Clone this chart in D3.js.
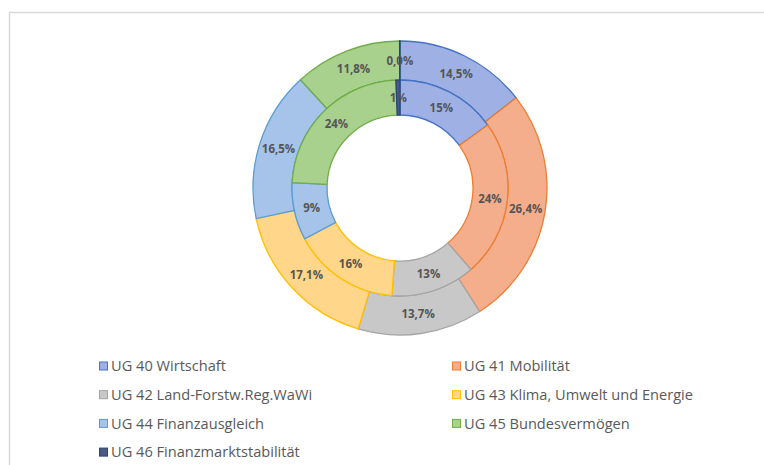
<!DOCTYPE html>
<meta charset="utf-8">
<style>
body { margin: 0; background: #fff; }
.slice { stroke-width: 1.3px; }
.lbl { font: bold 11.5px "Open Sans", sans-serif; fill: #555; }
.legend text { font: 14.6px "Open Sans", sans-serif; fill: #595959; }
</style>
<body>
<div id="chart"></div>
<script src="https://d3js.org/d3.v7.min.js"></script>
<script>

// categories and values
var categories = ["UG 40 Wirtschaft", "UG 41 Mobilität", "UG 42 Land-Forstw.Reg.WaWi",
  "UG 43 Klima, Umwelt und Energie", "UG 44 Finanzausgleich", "UG 45 Bundesvermögen",
  "UG 46 Finanzmarktstabilität"];
var outerValues = [14.5, 26.4, 13.7, 17.1, 16.5, 11.8, 0.04];
var innerValues = [15.1, 23.5, 12.6, 16.0, 8.6, 23.6, 0.6];
var fills   = ["#9fb1e4", "#f5ae8c", "#c8c8c8", "#ffd68a", "#a6c4ea", "#a9d18e", "#4a5a82"];
var strokes = ["#4472c4", "#ed7d31", "#a5a5a5", "#ffc000", "#5b9bd5", "#70ad47", "#264478"];

var width = 764, height = 465;
var cx = 400, cy = 188;

var svg = d3.select("#chart").append("svg")
  .attr("width", width)
  .attr("height", height);

// frame
svg.append("rect")
  .attr("x", 9.5).attr("y", 12.5)
  .attr("width", 780).attr("height", 480)
  .attr("fill", "none")
  .attr("stroke", "#d9d9d9")
  .attr("stroke-width", 1.5);

var pie = d3.pie().sort(null).value(function(d) { return d; });

var g = svg.append("g").attr("transform", "translate(" + cx + "," + cy + ")");

function ring(values, r0, r1, fmt) {
  var arc = d3.arc().innerRadius(r0).outerRadius(r1);
  var arcs = pie(values);
  var total = d3.sum(values);
  var grp = g.append("g");
  grp.selectAll("path")
    .data(arcs)
    .enter().append("path")
    .attr("class", "slice")
    .attr("d", arc)
    .attr("fill", function(d, i) { return fills[i]; })
    .attr("stroke", function(d, i) { return strokes[i]; });
  grp.selectAll("text")
    .data(arcs)
    .enter().append("text")
    .attr("class", "lbl")
    .attr("text-anchor", "middle")
    .attr("dy", "0.35em")
    .attr("transform", function(d) { return "translate(" + arc.centroid(d) + ")"; })
    .text(function(d) { return fmt(d.value / total * 100); });
}

ring(outerValues, 108, 147, function(v) { return v.toFixed(1).replace(".", ",") + "%"; });
ring(innerValues, 73, 108, function(v) { return Math.round(v) + "%"; });

// legend
var legend = svg.append("g").attr("class", "legend");
var item = legend.selectAll("g")
  .data(categories)
  .enter().append("g")
  .attr("transform", function(d, i) {
    var x = (i % 2) ? 452 : 99;
    var y = 366 + Math.floor(i / 2) * 28.7;
    return "translate(" + x + "," + y + ")";
  });
item.append("rect")
  .attr("x", 0.5).attr("y", -4)
  .attr("width", 8).attr("height", 8)
  .attr("fill", function(d, i) { return fills[i]; })
  .attr("stroke", function(d, i) { return strokes[i]; });
item.append("text")
  .attr("x", 12)
  .attr("dy", "0.35em")
  .text(function(d) { return d; });

</script>
</body>
